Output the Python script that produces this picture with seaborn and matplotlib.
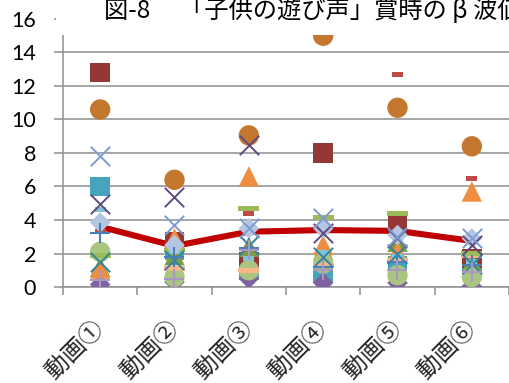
import numpy as np
import pandas as pd
import matplotlib
matplotlib.use("Agg")
import matplotlib.pyplot as plt
from matplotlib.patches import Rectangle
import seaborn as sns

# ---- data -------------------------------------------------------------
categories = ["動画①", "動画②", "動画③", "動画④", "動画⑤", "動画⑥"]
yticks = [0, 2, 4, 6, 8, 10, 12, 14, 16]

average = [3.6, 2.45, 3.3, 3.4, 3.35, 2.75]

teal_square = [6.0, 2.2, 1.0, 0.8, 1.3, 1.2]
darkred_square = [12.8, 2.7, 1.5, 8.0, 3.75, 1.7]
purple_diamond = [0.15, 0.3, 0.5, 0.25, 0.25, 0.05]
olive_triangle = [1.2, 1.9, 2.4, 2.2, 2.7, 1.5]
orange_triangle = [1.1, 2.9, 6.6, 2.5, 2.1, 5.7]
green_circle = [2.1, 0.6, 1.0, 1.4, 0.7, 0.6]
peach_bar = [1.85, 1.1, 1.0, 1.3, 1.6, 1.9]
green_bar = [1.9, 2.2, 4.7, 4.15, 4.4, 2.0]
orange_circle = [10.6, 6.4, 9.05, 15.0, 10.7, 8.4]
aqua_dash = [4.6, 2.1, 1.7, 2.05, 1.8, 1.5]
red_dash = [3.3, 2.6, 4.4, 3.3, 12.7, 6.5]
lightblue_diamond = [3.85, 2.5, 3.5, 3.5, 3.1, 2.9]
teal_x = [1.5, 1.6, 2.5, 1.8, 2.0, 1.4]
purple_x = [4.95, 5.4, 8.5, 3.2, 2.9, 2.5]
lightblue_x = [7.8, 3.7, 3.5, 4.1, 3.0, 2.9]
blue_plus = [3.2, 1.8, 2.3, 1.2, 1.5, 1.3]
lavender_plus = [0.4, 0.5, 2.2, 1.0, 1.0, 0.9]

# ---- marker shapes ------------------------------------------------------
short_dash = [(-1, -0.45), (1, -0.45), (1, 0.45), (-1, 0.45), (-1, -0.45)]
long_bar = [(-1, -0.22), (1, -0.22), (1, 0.22), (-1, 0.22), (-1, -0.22)]

# (values, marker, color, size, linewidth) drawn bottom -> top
series = [
    (teal_square, "s", "#47A4BD", 195, 0),
    (darkred_square, "s", "#953735", 195, 0),
    (purple_diamond, "D", "#7E62A1", 110, 0),
    (olive_triangle, "^", "#7E9C46", 215, 0),
    (orange_triangle, "^", "#EF8E40", 215, 0),
    (green_circle, "o", "#AAC57F", 215, 0),
    (peach_bar, long_bar, "#F9B487", 235, 0),
    (green_bar, long_bar, "#9BBB59", 235, 0),
    (orange_circle, "o", "#C4772F", 215, 0),
    (aqua_dash, short_dash, "#80C5D9", 65, 0),
    (red_dash, short_dash, "#BE4B48", 65, 0),
    (lightblue_diamond, "D", "#B3C7E3", 110, 0),
    (teal_x, "x", "#31859C", 195, 1.4),
    (purple_x, "x", "#604A7B", 195, 1.4),
    (lightblue_x, "x", "#7C9BD0", 195, 1.4),
    (blue_plus, "+", "#4A7EBB", 215, 1.5),
    (lavender_plus, "+", "#A997C4", 215, 1.5),
]

pos = np.arange(len(categories))

sns.set_theme(style="white")
plt.rcParams["font.family"] = ["Lato", "DejaVu Sans"]

W, H = 510, 383
fig = plt.figure(figsize=(W / 100, H / 100), dpi=100)
ax = fig.add_axes([63 / W, 1 - 287 / H, 446 / W, 268 / H])

grid_c = "#8E8E8E"
cjk = ["Noto Sans CJK JP", "DejaVu Sans"]

# average line
avg_df = pd.DataFrame({"x": pos, "y": average})
sns.lineplot(data=avg_df, x="x", y="y", ax=ax, color="#C00000", lw=4.4,
             solid_joinstyle="round", solid_capstyle="butt", zorder=2)

# individual series
for i, (vals, mk, col, size, lw) in enumerate(series):
    df = pd.DataFrame({"x": pos, "y": vals})
    kw = dict(marker=mk, color=col, s=size, ax=ax, zorder=3 + i * 0.01, legend=False)
    if lw:
        kw["linewidth"] = lw
    else:
        kw["edgecolor"] = "none"
        kw["linewidth"] = 0
    sns.scatterplot(data=df, x="x", y="y", **kw)

ax.set_xlim(-0.5, len(categories) - 0.5)
ax.set_ylim(0, 16)
ax.set_xlabel("")
ax.set_ylabel("")

# horizontal grid
ax.set_yticks(yticks)
ax.set_yticklabels([str(v) for v in yticks])
ax.yaxis.grid(True, color=grid_c, lw=1.1)
ax.set_axisbelow(True)
ax.tick_params(axis="y", length=6.5, width=1.1, color=grid_c, pad=13,
               labelsize=15.5, labelcolor="black", direction="out", left=True)

# category boundaries carry the tick marks, centres carry the labels
ax.set_xticks(np.arange(-0.5, len(categories)), labels=[""] * (len(categories) + 1))
ax.set_xticks(pos, minor=True)
ax.set_xticklabels(categories, minor=True, rotation=45, ha="right", va="center",
                   rotation_mode="anchor", fontsize=17, family=cjk)
ax.tick_params(axis="x", which="major", length=6, width=1.1, color=grid_c,
               direction="out", bottom=True)
ax.tick_params(axis="x", which="minor", length=0, pad=27, bottom=True)

for side in ("top", "right"):
    ax.spines[side].set_visible(False)
for side in ("left", "bottom"):
    ax.spines[side].set_color(grid_c)
    ax.spines[side].set_linewidth(1.1)

# title block sits over the top of the plotting area
fig.add_artist(Rectangle((56 / W, 1 - 35 / H), 1, 35 / H, transform=fig.transFigure,
                         facecolor="white", edgecolor="none", zorder=10))
fig.text(104 / W, 1 - 18 / H, "図-8　 「子供の遊び声」賞時の β 波値",
         fontsize=17.5, family=cjk, va="baseline", ha="left",
         color="black", zorder=11)

fig.savefig("out.png", dpi=100)
